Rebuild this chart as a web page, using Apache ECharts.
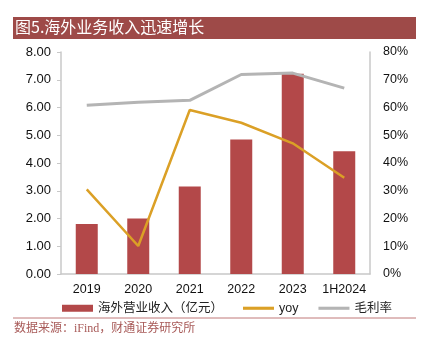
<!DOCTYPE html>
<html>
<head>
<meta charset="utf-8">
<script src="https://cdn.jsdelivr.net/npm/echarts@6/dist/echarts.min.js"></script>
<style>
  html, body { margin: 0; padding: 0; background: #fff; }
  #chart { width: 424px; height: 353px; }
</style>
</head>
<body>
<div id="chart"></div>
<script>
  // 数据
  var years = ['2019', '2020', '2021', '2022', '2023', '1H2024'];
  var revenue = [1.8, 2.0, 3.15, 4.85, 7.22, 4.42];     // 海外营业收入（亿元）
  var yoy = [30.5, 10.1, 59.1, 54.5, 47.1, 34.7];       // %
  var margin = [60.8, 61.9, 62.6, 71.9, 72.4, 67.0];    // 毛利率 %
  var leftTicks = { min: 0, max: 8, step: 1 };
  var rightTicks = { min: 0, max: 80, step: 10 };

  var font = '"Liberation Sans", "Noto Sans CJK SC", sans-serif';
  var lineIcon = 'path://M0,0 L10,0 L10,1 L0,1 Z';

  var chart = echarts.init(document.getElementById('chart'));
  chart.setOption({
    animation: false,
    textStyle: { fontFamily: font },
    grid: { left: 61, right: 54, top: 52, bottom: 79 },
    graphic: [
      { type: 'rect', shape: { x: 13, y: 17, width: 403, height: 22 },
        style: { fill: '#9E4A48' } },
      { type: 'text', left: 15, top: 19,
        style: { text: '图5.海外业务收入迅速增长', fill: '#fff', fontSize: 16,
                 fontFamily: '"Noto Sans CJK SC", sans-serif' } },
      { type: 'line', shape: { x1: 13, y1: 318, x2: 416, y2: 318 },
        style: { stroke: '#C07878', lineWidth: 1 } },
      { type: 'text', left: 14, top: 323,
        style: { text: '数据来源：iFind，财通证券研究所', fill: '#A85A58', fontSize: 12,
                 fontFamily: '"Liberation Serif", "Noto Sans CJK SC", serif' } }
    ],
    legend: {
      left: 57, top: 297,
      itemWidth: 31, itemHeight: 7, itemGap: 20,
      textStyle: { fontSize: 12.5, color: '#222', fontFamily: font },
      data: [
        { name: '海外营业收入（亿元）', icon: 'rect' },
        { name: 'yoy', icon: lineIcon },
        { name: '毛利率', icon: lineIcon }
      ]
    },
    xAxis: {
      type: 'category',
      data: years,
      axisLine: { lineStyle: { color: '#C8C8C8', width: 1.5 } },
      axisTick: { show: false },
      axisLabel: { color: '#111', fontSize: 12.5, margin: 9, interval: 0, hideOverlap: false }
    },
    yAxis: [
      {
        type: 'value', min: leftTicks.min, max: leftTicks.max, interval: leftTicks.step,
        axisLine: { show: true, lineStyle: { color: '#C8C8C8', width: 1.5 } },
        axisTick: { show: true, length: 4, lineStyle: { color: '#C8C8C8' } },
        splitLine: { show: false },
        axisLabel: { color: '#111', fontSize: 13, margin: 10,
                     formatter: function (v) { return v.toFixed(2); } }
      },
      {
        type: 'value', min: rightTicks.min, max: rightTicks.max, interval: rightTicks.step,
        position: 'right',
        axisLine: { show: true, lineStyle: { color: '#C8C8C8', width: 1.5 } },
        axisTick: { show: false },
        splitLine: { show: false },
        axisLabel: { color: '#111', fontSize: 12.5, margin: 13, formatter: '{value}%' }
      }
    ],
    series: [
      {
        name: '海外营业收入（亿元）', type: 'bar', data: revenue,
        barWidth: 22, itemStyle: { color: '#B34849' }
      },
      {
        name: 'yoy', type: 'line', yAxisIndex: 1, data: yoy,
        showSymbol: false, symbol: 'none',
        lineStyle: { color: '#DBA026', width: 2.5 }, itemStyle: { color: '#DBA026' }
      },
      {
        name: '毛利率', type: 'line', yAxisIndex: 1, data: margin,
        showSymbol: false, symbol: 'none',
        lineStyle: { color: '#B4B4B4', width: 3 }, itemStyle: { color: '#B4B4B4' }
      }
    ]
  });
</script>
</body>
</html>
